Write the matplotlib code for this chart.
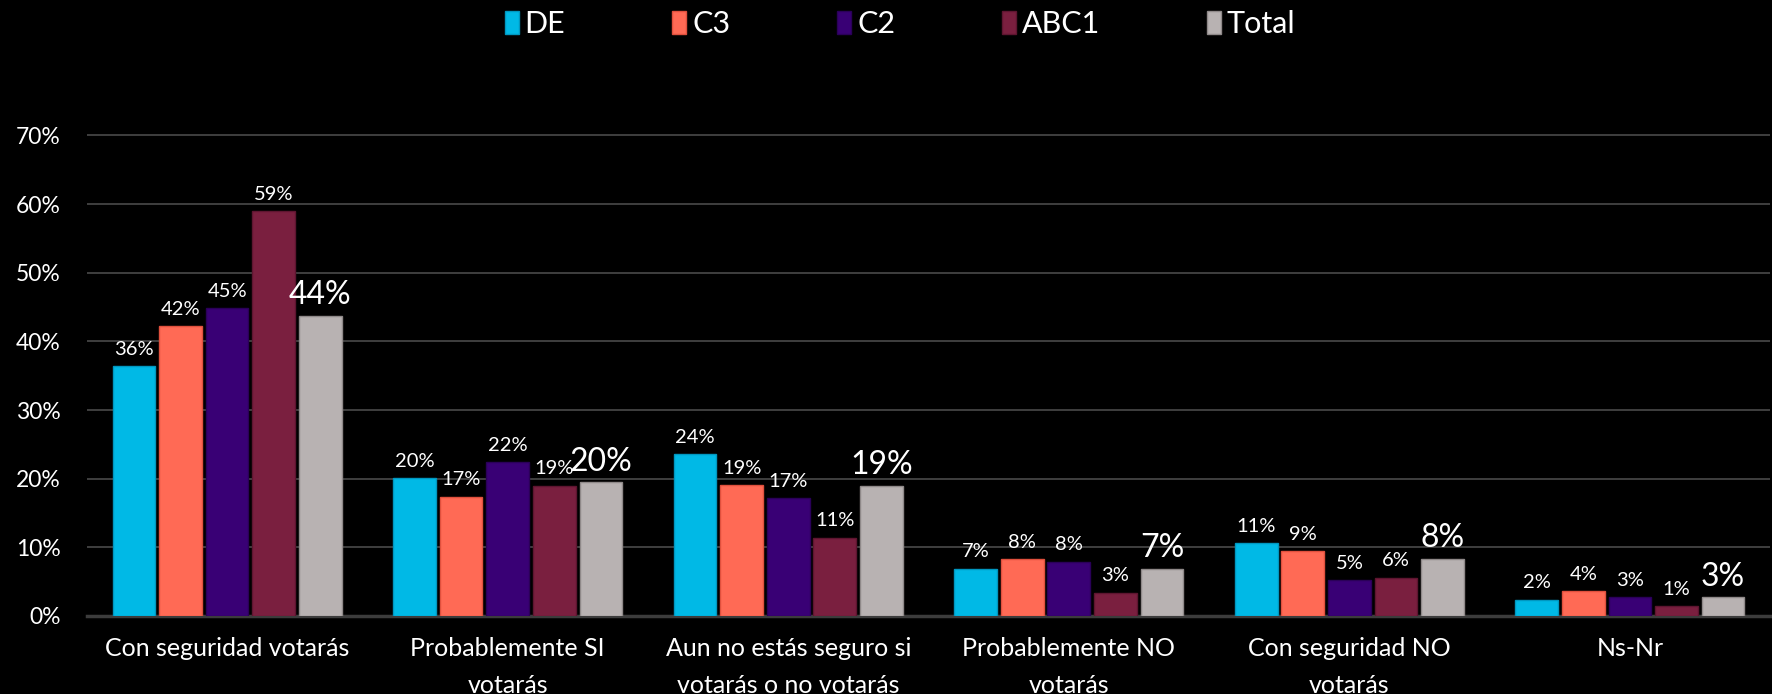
import numpy as np
import matplotlib
matplotlib.use("Agg")
import matplotlib.pyplot as plt
from matplotlib import font_manager

# datos (porcentajes por categoría)
categorias = ["Con seguridad votarás", "Probablemente SI\nvotarás",
              "Aun no estás seguro si\nvotarás o no votarás", "Probablemente NO\nvotarás",
              "Con seguridad NO\nvotarás", "Ns-Nr"]
leyenda = ["DE", "C3", "C2", "ABC1", "Total"]

de = [36.4, 20.1, 23.6, 6.9, 10.6, 2.4]
c3 = [42.2, 17.4, 19.1, 8.3, 9.4, 3.6]
c2 = [44.8, 22.4, 17.2, 7.9, 5.2, 2.7]
abc1 = [59.0, 19.0, 11.4, 3.4, 5.6, 1.4]
total = [43.7, 19.5, 19.0, 6.9, 8.3, 2.7]

colores = ["#00B9E6", "#FF6A55", "#390075", "#7A1F3F", "#B8B2B2"]
bordes = ["#0097C0", "#E0503D", "#2A0058", "#5E1530", "#8F8989"]

# fuente angosta si existe
nombres = {f.name for f in font_manager.fontManager.ttflist}
fuente = "Liberation Sans Narrow" if "Liberation Sans Narrow" in nombres else "Lato"
plt.rcParams["font.family"] = [fuente, "DejaVu Sans"]

fig = plt.figure(figsize=(17.72, 6.94), dpi=100, facecolor="black")
ax = fig.add_axes([0.049, 0.1124, 0.95, 0.6974])
ax.set_facecolor("black")

valores = [de, c3, c2, abc1, total]
x = np.arange(len(categorias))
paso = 0.166
ancho = 0.152

for i, (vals, col, bor, nom) in enumerate(zip(valores, colores, bordes, leyenda)):
    pos = x + (i - 2) * paso
    barras = ax.bar(pos, vals, width=ancho, color=col, edgecolor=bor, linewidth=1,
                    label=nom, zorder=3)
    for b, v in zip(barras, vals):
        grande = nom == "Total"
        ax.annotate(f"{round(v)}%", (b.get_x() + b.get_width() / 2, v),
                    xytext=(0, 4 if grande else 6), textcoords="offset points",
                    ha="center", va="bottom", color="white",
                    fontsize=23 if grande else 14.5)

ax.set_xlim(-0.5, 5.5)
ax.set_ylim(0, 70.5)
ax.set_yticks(np.arange(0, 71, 10))
ax.set_yticklabels([f"{t}%" for t in range(0, 71, 10)], color="white", fontsize=16.5)
ax.set_xticks(x)
ax.set_xticklabels(categorias, color="white", fontsize=18, linespacing=1.75)
ax.tick_params(axis="both", length=0)
ax.tick_params(axis="y", pad=19)
ax.tick_params(axis="x", pad=15)

ax.grid(axis="y", color="#4a4a4a", linewidth=1.2, zorder=0)
for s in ["top", "right", "left"]:
    ax.spines[s].set_visible(False)
ax.spines["bottom"].set_color("#3c3c3c")
ax.spines["bottom"].set_linewidth(2.5)

leg = fig.legend(loc="upper center", bbox_to_anchor=(0.508, 1.025), ncol=5, frameon=False,
                 fontsize=22, handlelength=0.45, handleheight=0.8, handletextpad=0.2,
                 columnspacing=3.5)
for t in leg.get_texts():
    t.set_color("white")

fig.savefig("out.png", dpi=100, facecolor="black")
